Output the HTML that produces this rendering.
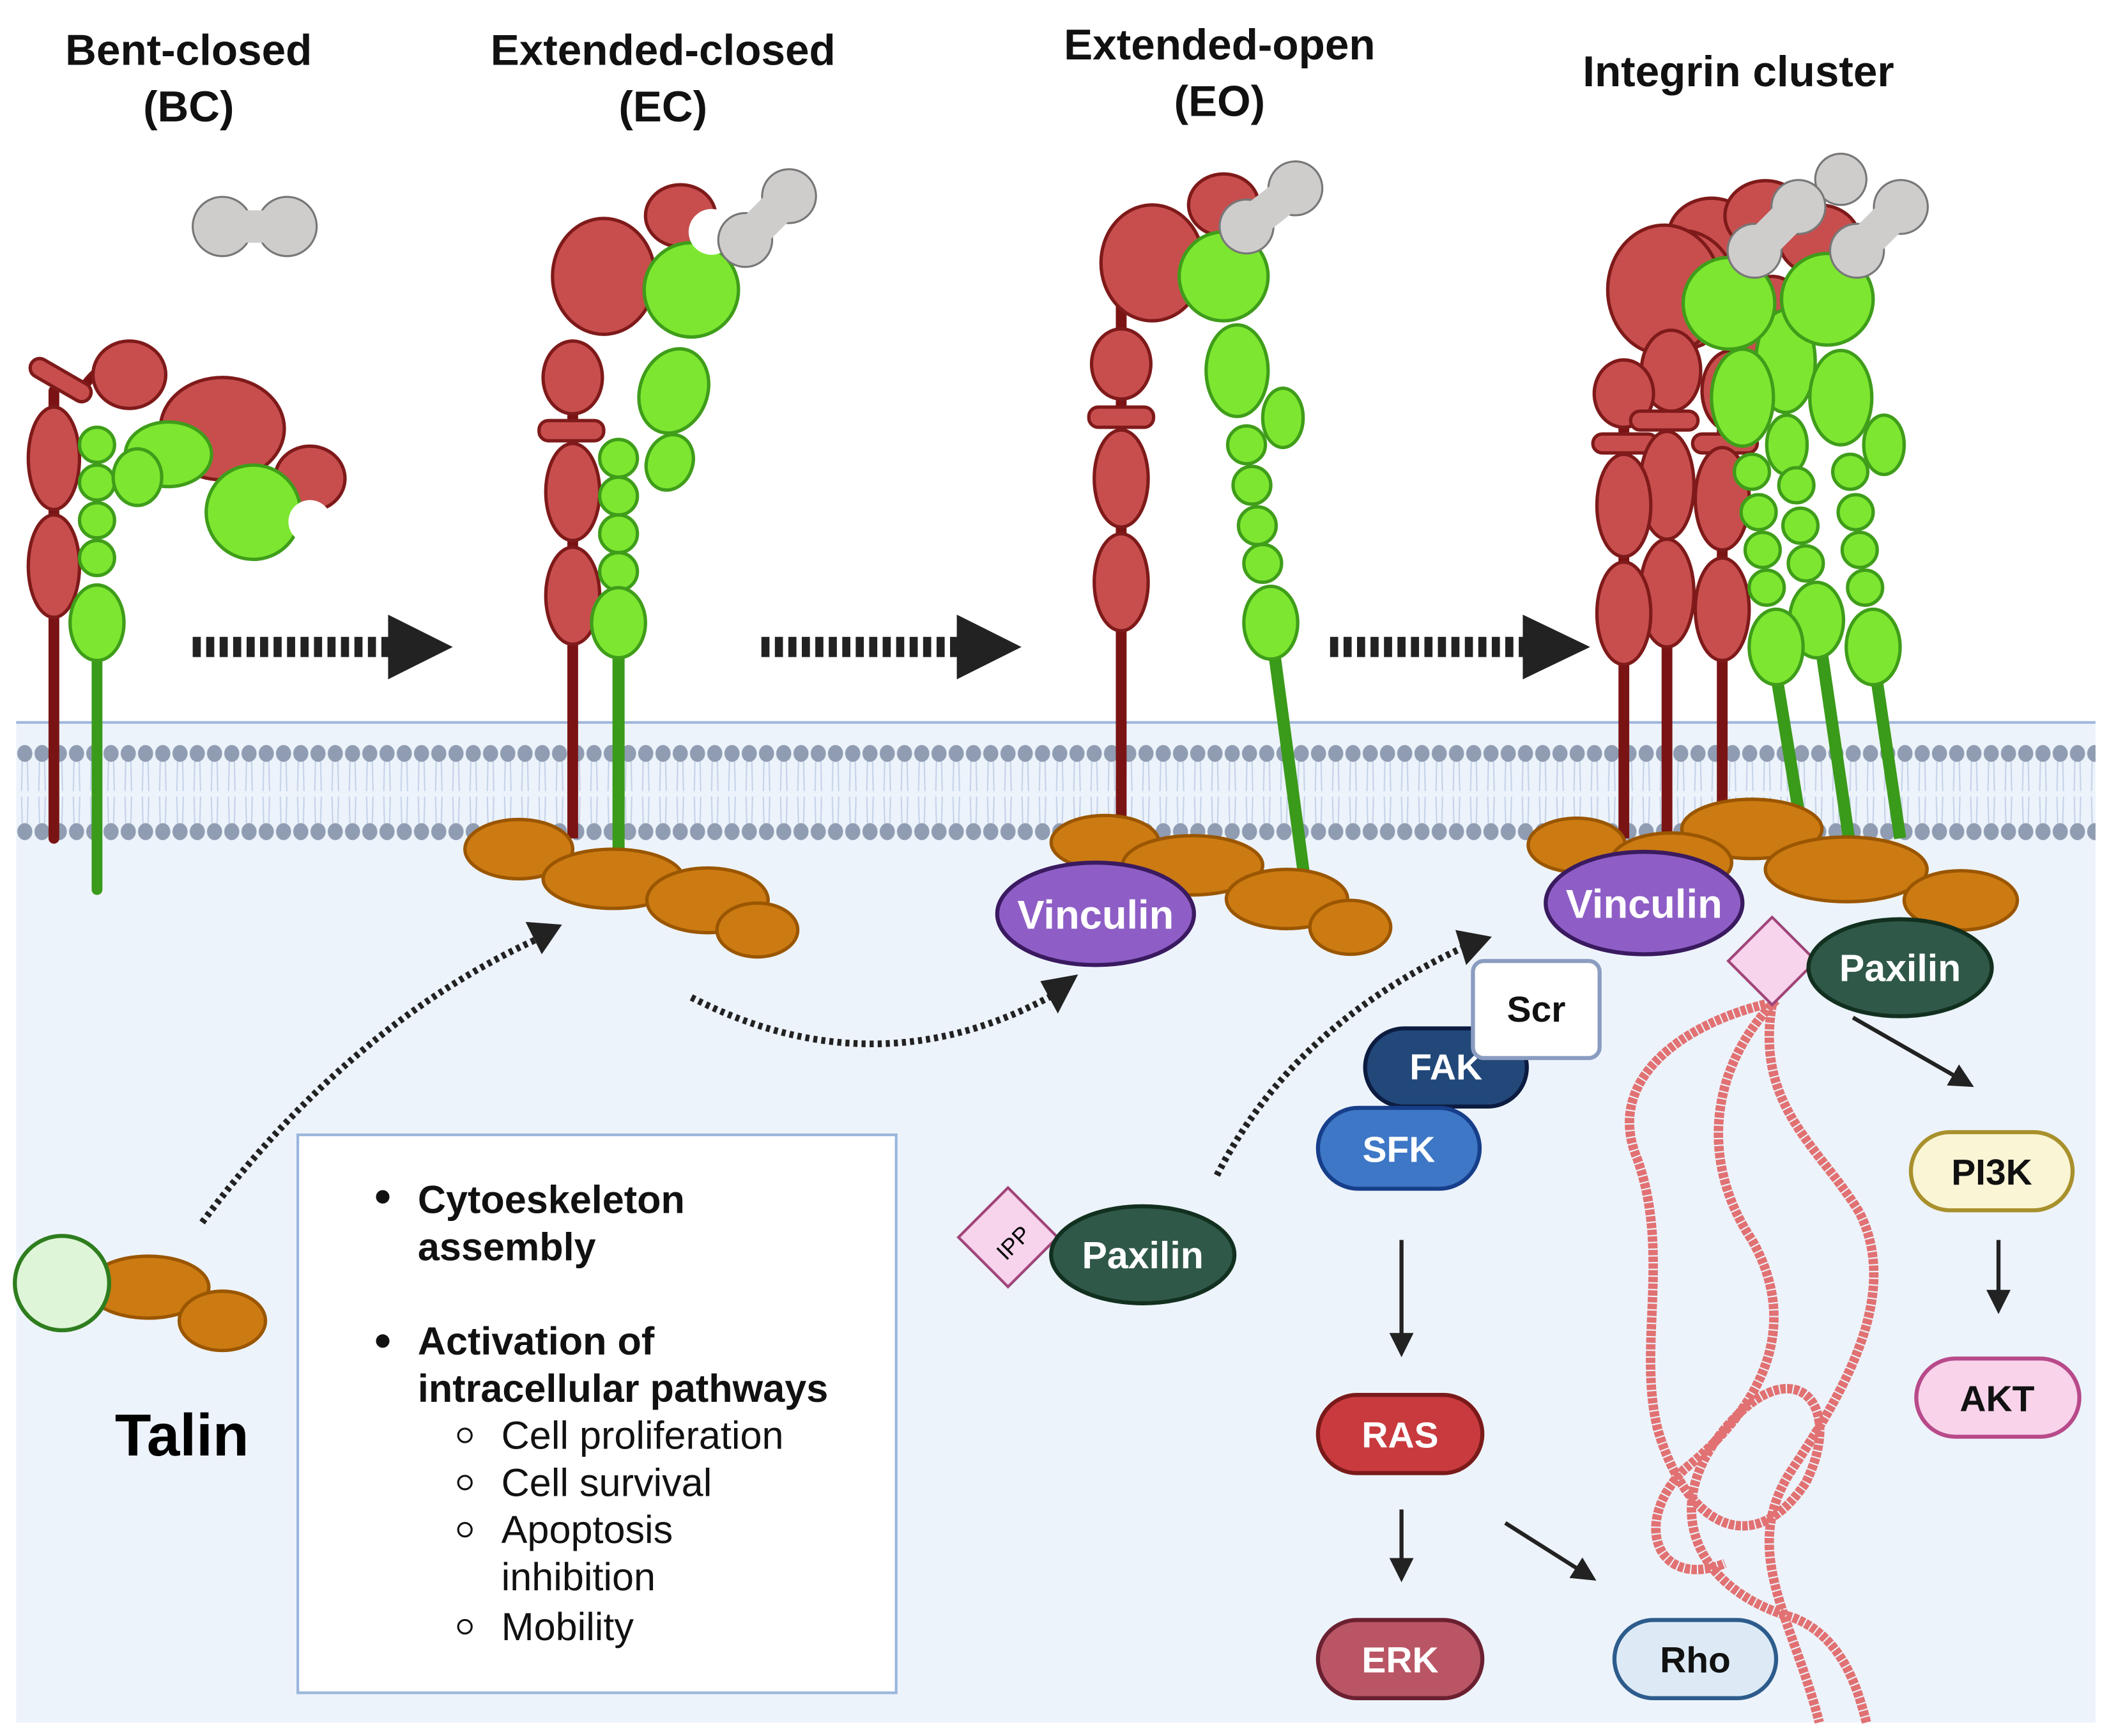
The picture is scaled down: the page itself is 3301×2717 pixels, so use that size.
<!DOCTYPE html>
<html><head><meta charset="utf-8"><style>
html,body{margin:0;padding:0;background:#fff}
svg{display:block}
text{font-family:"Liberation Sans",sans-serif}
</style></head><body>
<svg width="3301" height="2717" viewBox="0 0 1565 1288" xmlns="http://www.w3.org/2000/svg">
<defs>
<pattern id="mem" x="12" y="549" width="12.8" height="80" patternUnits="userSpaceOnUse">
<path d="M4.5 16 L4 38 M8.3 16 L8.8 38 M4 42 L4.5 62 M8.8 42 L8.3 62" stroke="#c4d2e8" stroke-width="1" fill="none"/>
<ellipse cx="6.4" cy="10" rx="5.6" ry="6.3" fill="#8f9cb2"/>
<ellipse cx="6.4" cy="68" rx="5.6" ry="6.3" fill="#8f9cb2"/>
</pattern>
<marker id="ah" markerWidth="6" markerHeight="6" refX="3" refY="3" orient="auto" markerUnits="strokeWidth">
<path d="M0 0 L6 3 L0 6 Z" fill="#222"/>
</marker>
<g id="lig"><circle cx="0" cy="0" r="20" fill="#cfcccc" stroke="#777" stroke-width="1.5"/><circle cx="0" cy="-46" r="20" fill="#cfcccc" stroke="#777" stroke-width="1.5"/><rect x="-13" y="-46" width="26" height="46" fill="#cfcccc"/></g>
</defs>

<!-- cell -->
<rect x="12" y="535" width="1543" height="743" fill="#edf3fb"/>
<line x1="12" y1="536" x2="1555" y2="536" stroke="#9fb6dc" stroke-width="2"/>
<rect x="12" y="549" width="1543" height="80" fill="url(#mem)"/>

<!-- titles -->
<g font-weight="bold" font-size="32" text-anchor="middle" fill="#111">
<text x="140" y="48">Bent-closed</text><text x="140" y="90">(BC)</text>
<text x="492" y="48">Extended-closed</text><text x="492" y="90">(EC)</text>
<text x="905" y="44">Extended-open</text><text x="905" y="86">(EO)</text>
<text x="1290" y="64">Integrin cluster</text>
</g>

<!-- big dashed arrows -->
<g>
<line x1="143" y1="480" x2="290" y2="480" stroke="#222" stroke-width="15" stroke-dasharray="6 4"/>
<path d="M288 456 L336 480 L288 504 Z" fill="#222"/>
<line x1="565" y1="480" x2="712" y2="480" stroke="#222" stroke-width="15" stroke-dasharray="6 4"/>
<path d="M710 456 L758 480 L710 504 Z" fill="#222"/>
<line x1="987" y1="480" x2="1132" y2="480" stroke="#222" stroke-width="15" stroke-dasharray="6 4"/>
<path d="M1130 456 L1180 480 L1130 504 Z" fill="#222"/>
</g>

<!-- BC integrin -->
<g stroke="#7f1a1a" stroke-width="2.5" fill="#c84e4e">
<line x1="40" y1="290" x2="40" y2="622" stroke="#7a1414" stroke-width="8" stroke-linecap="round"/>
<path d="M60 290 Q80 260 110 265" fill="none" stroke="#7a1414" stroke-width="7"/>
<ellipse cx="40" cy="340" rx="19" ry="38"/>
<ellipse cx="40" cy="420" rx="19" ry="38"/>
<rect x="20" y="275" width="50" height="14" rx="7" transform="rotate(30 45 282)"/>
<ellipse cx="96" cy="278" rx="27" ry="25"/>
<ellipse cx="165" cy="318" rx="46" ry="38"/>
<ellipse cx="230" cy="355" rx="26" ry="24"/>
</g>
<g stroke="#3f9d1a" stroke-width="2.5" fill="#7de630">
<line x1="72" y1="470" x2="72" y2="660" stroke="#3a9a1a" stroke-width="8" stroke-linecap="round"/>
<circle cx="72" cy="330" r="13"/><circle cx="72" cy="358" r="13"/><circle cx="72" cy="386" r="13"/><circle cx="72" cy="414" r="13"/>
<ellipse cx="72" cy="462" rx="20" ry="28"/>
<ellipse cx="125" cy="337" rx="32" ry="24"/>
<ellipse cx="102" cy="354" rx="18" ry="21"/>
<circle cx="188" cy="380" r="35"/>
</g>
<circle cx="230" cy="387" r="16" fill="#fff"/>
<g><circle cx="165" cy="168" r="22" fill="#cfcccc" stroke="#777" stroke-width="1.5"/><circle cx="213" cy="168" r="22" fill="#cfcccc" stroke="#777" stroke-width="1.5"/><rect x="165" y="156" width="48" height="24" fill="#cfcccc"/></g>

<!-- EC integrin -->
<g stroke="#7f1a1a" stroke-width="2.5" fill="#c84e4e">
<line x1="425" y1="280" x2="425" y2="622" stroke="#7a1414" stroke-width="8"/>
<ellipse cx="425" cy="280" rx="22" ry="27"/>
<rect x="400" y="312" width="48" height="15" rx="7"/>
<ellipse cx="425" cy="365" rx="20" ry="36"/>
<ellipse cx="425" cy="442" rx="20" ry="36"/>
<ellipse cx="448" cy="205" rx="38" ry="43"/>
<ellipse cx="505" cy="160" rx="26" ry="23"/>
</g>
<g stroke="#3f9d1a" stroke-width="2.5" fill="#7de630">
<line x1="459" y1="480" x2="459" y2="632" stroke="#3a9a1a" stroke-width="9"/>
<circle cx="459" cy="340" r="14"/><circle cx="459" cy="368" r="14"/><circle cx="459" cy="396" r="14"/><circle cx="459" cy="424" r="14"/>
<ellipse cx="459" cy="462" rx="20" ry="26"/>
<ellipse cx="500" cy="290" rx="25" ry="32" transform="rotate(20 500 290)"/>
<ellipse cx="497" cy="343" rx="17" ry="21" transform="rotate(20 497 343)"/>
<circle cx="513" cy="215" r="35"/>
</g>
<circle cx="528" cy="172" r="17" fill="#fff"/>
<use href="#lig" transform="translate(553 178) rotate(45)"/>

<!-- EO integrin -->
<g stroke="#7f1a1a" stroke-width="2.5" fill="#c84e4e">
<line x1="832" y1="200" x2="832" y2="622" stroke="#7a1414" stroke-width="8"/>
<ellipse cx="832" cy="270" rx="22" ry="26"/>
<rect x="808" y="302" width="48" height="15" rx="7"/>
<ellipse cx="832" cy="355" rx="20" ry="36"/>
<ellipse cx="832" cy="432" rx="20" ry="36"/>
<ellipse cx="855" cy="195" rx="38" ry="43"/>
<ellipse cx="908" cy="152" rx="26" ry="23"/>
</g>
<g stroke="#3f9d1a" stroke-width="2.5" fill="#7de630">
<line x1="945" y1="480" x2="968" y2="652" stroke="#3a9a1a" stroke-width="9"/>
<ellipse cx="918" cy="275" rx="23" ry="34"/>
<ellipse cx="952" cy="310" rx="15" ry="22"/>
<circle cx="925" cy="330" r="14"/><circle cx="929" cy="360" r="14"/><circle cx="933" cy="390" r="14"/><circle cx="937" cy="418" r="14"/>
<ellipse cx="943" cy="462" rx="20" ry="27"/>
<circle cx="908" cy="205" r="33"/>
</g>
<use href="#lig" transform="translate(925 168) rotate(52)"/>

<!-- cluster -->
<g stroke="#7f1a1a" stroke-width="2.5" fill="#c84e4e">
<line x1="1205" y1="300" x2="1205" y2="622" stroke="#7a1414" stroke-width="8"/>
<line x1="1237" y1="300" x2="1237" y2="622" stroke="#7a1414" stroke-width="8"/>
<line x1="1278" y1="300" x2="1278" y2="622" stroke="#7a1414" stroke-width="8"/>
<ellipse cx="1270" cy="175" rx="32" ry="28"/><ellipse cx="1310" cy="160" rx="30" ry="26"/><ellipse cx="1350" cy="178" rx="30" ry="26"/>
<ellipse cx="1248" cy="215" rx="40" ry="44"/><ellipse cx="1315" cy="250" rx="30" ry="45"/>
<ellipse cx="1235" cy="215" rx="42" ry="48"/>
<ellipse cx="1240" cy="275" rx="22" ry="30"/><ellipse cx="1285" cy="290" rx="22" ry="30"/>
<ellipse cx="1205" cy="292" rx="22" ry="25"/>
<rect x="1210" y="305" width="50" height="14" rx="7"/>
<rect x="1182" y="322" width="48" height="14" rx="7"/><rect x="1256" y="322" width="48" height="14" rx="7"/>
<ellipse cx="1237" cy="360" rx="20" ry="40"/><ellipse cx="1237" cy="440" rx="20" ry="40"/>
<ellipse cx="1205" cy="375" rx="20" ry="38"/><ellipse cx="1205" cy="455" rx="20" ry="38"/>
<ellipse cx="1278" cy="370" rx="20" ry="38"/><ellipse cx="1278" cy="452" rx="20" ry="38"/>
</g>
<g stroke="#3f9d1a" stroke-width="2.5" fill="#7de630">
<line x1="1318" y1="500" x2="1338" y2="622" stroke="#3a9a1a" stroke-width="9"/>
<line x1="1352" y1="485" x2="1372" y2="622" stroke="#3a9a1a" stroke-width="9"/>
<line x1="1392" y1="500" x2="1410" y2="622" stroke="#3a9a1a" stroke-width="9"/>
<ellipse cx="1325" cy="268" rx="22" ry="38"/>
<ellipse cx="1293" cy="295" rx="23" ry="36"/><ellipse cx="1366" cy="295" rx="23" ry="35"/>
<ellipse cx="1398" cy="330" rx="15" ry="22"/><ellipse cx="1326" cy="330" rx="15" ry="22"/>
<circle cx="1300" cy="350" r="13"/><circle cx="1305" cy="380" r="13"/><circle cx="1308" cy="408" r="13"/><circle cx="1311" cy="436" r="13"/>
<circle cx="1333" cy="360" r="13"/><circle cx="1336" cy="390" r="13"/><circle cx="1340" cy="418" r="13"/>
<circle cx="1373" cy="350" r="13"/><circle cx="1377" cy="380" r="13"/><circle cx="1380" cy="408" r="13"/><circle cx="1384" cy="436" r="13"/>
<ellipse cx="1348" cy="460" rx="20" ry="28"/>
<ellipse cx="1318" cy="480" rx="20" ry="28"/><ellipse cx="1390" cy="480" rx="20" ry="28"/>
<circle cx="1283" cy="225" r="34"/><circle cx="1356" cy="222" r="34"/>
</g>
<circle cx="1366" cy="133" r="19" fill="#cfcccc" stroke="#777" stroke-width="1.5"/>
<use href="#lig" transform="translate(1302 186) rotate(45)"/>
<use href="#lig" transform="translate(1378 186) rotate(45)"/>

<!-- talin blobs -->
<g fill="#cc7a12" stroke="#9a5600" stroke-width="2.5">
<ellipse cx="385" cy="630" rx="40" ry="22"/><ellipse cx="455" cy="652" rx="52" ry="22"/><ellipse cx="525" cy="668" rx="45" ry="24"/><ellipse cx="562" cy="690" rx="30" ry="20"/>
<ellipse cx="820" cy="625" rx="40" ry="20"/><ellipse cx="885" cy="642" rx="52" ry="22"/><ellipse cx="955" cy="667" rx="45" ry="22"/><ellipse cx="1002" cy="688" rx="30" ry="20"/>
<ellipse cx="1170" cy="627" rx="36" ry="20"/><ellipse cx="1300" cy="615" rx="52" ry="22"/><ellipse cx="1240" cy="640" rx="45" ry="22"/><ellipse cx="1370" cy="645" rx="60" ry="24"/><ellipse cx="1455" cy="668" rx="42" ry="22"/>
<ellipse cx="110" cy="955" rx="45" ry="23"/><ellipse cx="165" cy="980" rx="32" ry="22"/>
</g>
<circle cx="46" cy="952" r="35" fill="#dff5d8" stroke="#2e7d1e" stroke-width="3"/>
<text x="135" y="1080" font-weight="bold" font-size="44" text-anchor="middle">Talin</text>

<!-- dotted curved arrows -->
<g fill="none" stroke="#222" stroke-width="5" stroke-dasharray="3 3">
<path d="M150 907 Q260 760 398 697"/>
<path d="M513 740 Q650 810 782 738"/>
<path d="M903 872 Q960 760 1088 702"/>
</g>
<path d="M390 684 L417 686 L402 708 Z" fill="#222"/>
<path d="M772 728 L800 723 L785 752 Z" fill="#222"/>
<path d="M1080 690 L1107 695 L1088 716 Z" fill="#222"/>

<!-- text box -->
<rect x="221" y="842" width="444" height="414" fill="#fff" stroke="#9ab6dc" stroke-width="2"/>
<g font-size="29" fill="#111">
<circle cx="284" cy="888" r="5" fill="#111"/>
<text x="310" y="900" font-weight="bold">Cytoeskeleton</text>
<text x="310" y="935" font-weight="bold">assembly</text>
<circle cx="284" cy="995" r="5" fill="#111"/>
<text x="310" y="1005" font-weight="bold">Activation of</text>
<text x="310" y="1040" font-weight="bold">intracellular pathways</text>
<g fill="none" stroke="#111" stroke-width="1.5"><circle cx="345" cy="1065" r="5"/><circle cx="345" cy="1100" r="5"/><circle cx="345" cy="1135" r="5"/><circle cx="345" cy="1207" r="5"/></g>
<text x="372" y="1075">Cell proliferation</text>
<text x="372" y="1110">Cell survival</text>
<text x="372" y="1145">Apoptosis</text>
<text x="372" y="1180">inhibition</text>
<text x="372" y="1217">Mobility</text>
</g>

<!-- actin -->
<g fill="none" stroke="#e06464" stroke-width="7" stroke-dasharray="4 1" opacity="0.9">
<path d="M1310 745 C1250 760 1190 800 1215 860 C1240 930 1215 1000 1230 1060 C1250 1130 1300 1160 1340 1100 C1370 1040 1330 1000 1280 1060 C1230 1120 1260 1180 1330 1200 C1370 1215 1380 1260 1385 1278"/>
<path d="M1316 740 C1300 820 1350 850 1380 900 C1410 960 1370 1030 1330 1090 C1290 1150 1330 1200 1350 1278"/>
<path d="M1318 742 C1270 790 1260 860 1300 920 C1340 990 1300 1050 1250 1090 C1210 1130 1230 1180 1280 1160"/>
</g>

<!-- IPP + paxilin -->
<g>
<rect x="722" y="892" width="52" height="52" transform="rotate(45 748 918)" fill="#f7d3ec" stroke="#a0457a" stroke-width="2" />
<text x="752" y="928" font-size="17" text-anchor="middle" transform="rotate(-45 752 922)">IPP</text>
<ellipse cx="848" cy="931" rx="68" ry="36" fill="#2f5848" stroke="#12301f" stroke-width="3"/>
<text x="848" y="941" font-size="28" font-weight="bold" fill="#fff" text-anchor="middle">Paxilin</text>
<rect x="1292" y="690" width="46" height="46" transform="rotate(45 1315 713)" fill="#f7d3ec" stroke="#a0457a" stroke-width="2"/>
<ellipse cx="1410" cy="718" rx="68" ry="36" fill="#2f5848" stroke="#12301f" stroke-width="3"/>
<text x="1410" y="728" font-size="28" font-weight="bold" fill="#fff" text-anchor="middle">Paxilin</text>
</g>

<!-- vinculins -->
<ellipse cx="813" cy="678" rx="73" ry="38" fill="#8e5ec6" stroke="#3a1a60" stroke-width="3"/>
<text x="813" y="689" font-size="30" font-weight="bold" fill="#fff" text-anchor="middle">Vinculin</text>
<ellipse cx="1220" cy="670" rx="73" ry="38" fill="#8e5ec6" stroke="#3a1a60" stroke-width="3"/>
<text x="1220" y="681" font-size="30" font-weight="bold" fill="#fff" text-anchor="middle">Vinculin</text>

<!-- signaling nodes -->
<g font-size="27" font-weight="bold" text-anchor="middle">
<rect x="1013" y="763" width="120" height="58" rx="29" fill="#22487a" stroke="#0c1c40" stroke-width="3"/>
<text x="1073" y="801" fill="#fff">FAK</text>
<rect x="1093" y="713" width="94" height="72" rx="8" fill="#fff" stroke="#8a9cc0" stroke-width="3"/>
<text x="1140" y="758" fill="#111">Scr</text>
<rect x="978" y="822" width="120" height="60" rx="30" fill="#3d77c6" stroke="#173e8a" stroke-width="3"/>
<text x="1038" y="862" fill="#fff">SFK</text>
<rect x="978" y="1035" width="122" height="58" rx="29" fill="#c93a3e" stroke="#7a1a1a" stroke-width="3"/>
<text x="1039" y="1074" fill="#fff">RAS</text>
<rect x="978" y="1202" width="122" height="58" rx="29" fill="#b95565" stroke="#6a2030" stroke-width="3"/>
<text x="1039" y="1241" fill="#fff">ERK</text>
<rect x="1198" y="1202" width="120" height="58" rx="29" fill="#ddeaf6" stroke="#2d5c8c" stroke-width="3"/>
<text x="1258" y="1241" fill="#111">Rho</text>
<rect x="1418" y="840" width="120" height="58" rx="29" fill="#faf5d5" stroke="#a8902c" stroke-width="3"/>
<text x="1478" y="879" fill="#111">PI3K</text>
<rect x="1422" y="1008" width="121" height="58" rx="29" fill="#f8d3ea" stroke="#b84a8a" stroke-width="3"/>
<text x="1482" y="1047" fill="#111">AKT</text>
</g>

<!-- solid arrows -->
<g stroke="#222" stroke-width="3" marker-end="url(#ah)">
<line x1="1040" y1="920" x2="1040" y2="998"/>
<line x1="1040" y1="1120" x2="1040" y2="1165"/>
<line x1="1117" y1="1130" x2="1177" y2="1168"/>
<line x1="1483" y1="920" x2="1483" y2="966"/>
<line x1="1375" y1="755" x2="1457" y2="802"/>
</g>
</svg>
</body></html>
